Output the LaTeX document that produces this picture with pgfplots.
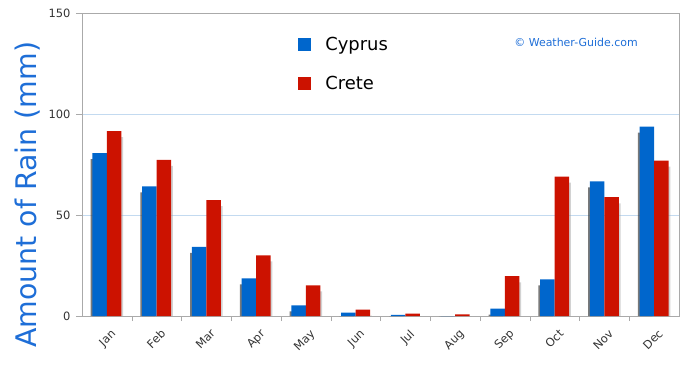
\documentclass[border=0pt]{standalone}
\usepackage{pgfplots}
\pgfplotsset{compat=1.18}
\usepackage{pgfplotstable}
\usepackage{fontspec}
\setmainfont{DejaVu Sans}
\definecolor{cyp}{RGB}{0,102,204}
\definecolor{cre}{RGB}{204,18,0}
\definecolor{lblblue}{RGB}{30,110,215}
\definecolor{gridblue}{RGB}{195,218,240}
\definecolor{framegray}{RGB}{170,170,170}
\pgfplotstableread{
x cyprus crete
0 80.6 91.5
1 64.2 77.3
2 34.2 57.4
3 18.6 30.0
4 5.3 15.2
5 1.7 3.2
6 0.6 1.2
7 0.0 0.8
8 3.7 19.7
9 18.1 69.0
10 66.7 58.8
11 93.8 76.9
}\rain
\begin{document}
\begin{tikzpicture}[x=1bp,y=1bp]
\useasboundingbox (-82bp,-49bp) rectangle (608bp,316bp);
\begin{axis}[
  at={(0,0)}, anchor=south west,
  scale only axis, width=597bp, height=303bp,
  xmin=-0.5, xmax=11.5, ymin=0, ymax=150,
  ytick={0,50,100,150},
  xtick={0,...,11},
  xticklabels={Jan,Feb,Mar,Apr,May,Jun,Jul,Aug,Sep,Oct,Nov,Dec},
  minor xtick={0.5,1.5,...,10.5},
  major x tick style={draw=none},
  minor tick length=5bp,
  major tick length=6bp,
  tick align=outside, tick pos=left,
  tick style={framegray},
  axis line style={framegray},
  ymajorgrids, grid style={gridblue, line width=0.8pt},
  /pgf/number format/assume math mode=true,
  ticklabel style={font=\fontsize{11.5}{13}\selectfont, text=black!80},
  yticklabel style={xshift=-2bp},
  xticklabel style={rotate=45, anchor=north east, font=\fontsize{11.5}{13}\selectfont, inner sep=1pt, xshift=-1bp, yshift=-6bp},
  ylabel={Amount of Rain (mm)},
  ylabel style={at={(ticklabel cs:0.40)}, font=\fontsize{28.5}{32}\selectfont, text=lblblue, yshift=2bp},
  legend style={draw=none, fill=none, at={(0.362,0.92)}, anchor=north west,
    font=\fontsize{18}{21}\selectfont, row sep=24bp, inner sep=0pt,
    nodes={inner sep=0pt}},
  legend cell align=left,
  legend image code/.code={\fill[#1] (0bp,-6.5bp) rectangle (13bp,6.5bp); \path (27bp,0bp);},
]
\addplot[ybar, bar width=14.5bp, bar shift=-9bp, fill=black!75, draw=none, opacity=0.7, forget plot]
  table[x=x, y expr={max(\thisrow{cyprus}-3,0)}] {\rain};
\addplot[ybar, bar width=14.5bp, bar shift=9bp, fill=black!35, draw=none, opacity=0.5, forget plot]
  table[x=x, y expr={max(\thisrow{crete}-3,0)}] {\rain};
\addplot[ybar, bar width=14.5bp, bar shift=-7.25bp, fill=cyp, draw=none] table[x=x, y=cyprus] {\rain};
\addplot[ybar, bar width=14.5bp, bar shift=7.25bp, fill=cre, draw=none] table[x=x, y=crete] {\rain};
\legend{Cyprus, Crete}
\node[text=lblblue, font=\fontsize{11}{13}\selectfont] at (axis cs:9.43,135.6) {© Weather-Guide.com};
\end{axis}
\end{tikzpicture}
\end{document}
